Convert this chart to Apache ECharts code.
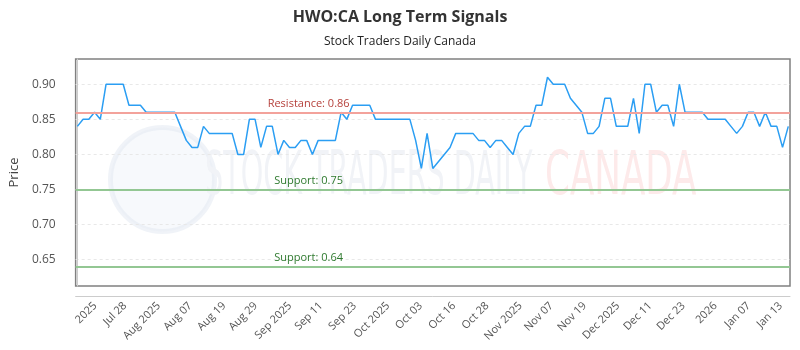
<!DOCTYPE html>
<html>
<head>
<meta charset="utf-8">
<title>HWO:CA Long Term Signals</title>
<script src="https://cdn.jsdelivr.net/npm/echarts@6/dist/echarts.min.js"></script>
<style>
  html, body { margin: 0; padding: 0; background: #fff; }
  #chart { width: 800px; height: 350px; }
</style>
</head>
<body>
<div id="chart"></div>
<script>
// daily closes, one per trading day (index = position on the x axis)
const prices = [
  0.84, 0.85, 0.85, 0.86, 0.85, 0.90, 0.90, 0.90, 0.90, 0.87,
  0.87, 0.87, 0.86, 0.86, 0.86, 0.86, 0.86, 0.86, 0.84, 0.82,
  0.81, 0.81, 0.84, 0.83, 0.83, 0.83, 0.83, 0.83, 0.80, 0.80,
  0.85, 0.85, 0.81, 0.84, 0.84, 0.80, 0.82, 0.81, 0.81, 0.82,
  0.82, 0.80, 0.82, 0.82, 0.82, 0.82, 0.86, 0.85, 0.87, 0.87,
  0.87, 0.87, 0.85, 0.85, 0.85, 0.85, 0.85, 0.85, 0.85, 0.82,
  0.78, 0.83, 0.78, 0.79, 0.80, 0.81, 0.83, 0.83, 0.83, 0.83,
  0.82, 0.82, 0.81, 0.82, 0.82, 0.81, 0.80, 0.83, 0.84, 0.84,
  0.87, 0.87, 0.91, 0.90, 0.90, 0.90, 0.88, 0.87, 0.86, 0.83,
  0.83, 0.84, 0.88, 0.88, 0.84, 0.84, 0.84, 0.88, 0.83, 0.90,
  0.90, 0.86, 0.87, 0.87, 0.84, 0.90, 0.86, 0.86, 0.86, 0.86,
  0.85, 0.85, 0.85, 0.85, 0.84, 0.83, 0.84, 0.86, 0.86, 0.84,
  0.86, 0.84, 0.84, 0.81, 0.84
]

// x tick positions (in trading-day index units) and their labels
const tickPos = [3.1, 8.3, 14.2, 19.7, 25.6, 31.1, 37.1, 42.5, 48.4, 54.2, 59.9,
  65.7, 71.5, 77.3, 82.7, 88.5, 94.3, 99.9, 105.7, 111.3, 117.1, 122.7]
const tickLabels = ['2025', 'Jul 28', 'Aug 2025', 'Aug 07', 'Aug 19', 'Aug 29', 'Sep 2025',
  'Sep 11', 'Sep 23', 'Oct 2025', 'Oct 03', 'Oct 16', 'Oct 28', 'Nov 2025', 'Nov 07',
  'Nov 19', 'Dec 2025', 'Dec 11', 'Dec 23', '2026', 'Jan 07', 'Jan 13']

const resistance = 0.86
const supports = [0.75, 0.64]

const chart = echarts.init(document.getElementById('chart'))

const font = "'Open Sans', 'Noto Sans', sans-serif"
const wmFont = "60px 'DejaVu Sans Condensed', 'Liberation Sans Narrow', sans-serif"

function levelLine(val, name, lineColor, textColor, dist) {
  return {
    yAxis: val,
    lineStyle: { color: lineColor, width: 2, type: 'solid' },
    label: {
      show: true, position: 'insideStartTop', distance: dist,
      formatter: name + ': ' + val.toFixed(2),
      color: textColor, fontSize: 11, fontFamily: font, align: 'center'
    }
  }
}

chart.setOption({
  animation: false,
  title: {
    text: 'HWO:CA Long Term Signals',
    subtext: 'Stock Traders Daily Canada',
    left: 'center', top: 4, itemGap: 11,
    textStyle: { fontSize: 16, fontWeight: 'bold', color: '#333', fontFamily: font },
    subtextStyle: { fontSize: 12, color: '#222', fontFamily: font }
  },
  graphic: [
    {
      type: 'circle', left: 108, top: 125, z: -10, silent: true,
      shape: { r: 52 },
      style: { fill: 'rgba(232,237,245,0.35)', stroke: 'rgba(228,233,242,0.55)', lineWidth: 5 }
    },
    {
      type: 'text', left: 205, top: 148, z: -10, silent: true,
      style: { text: 'STOCK TRADERS DAILY', fill: '#f1f3f7', font: wmFont },
      scaleX: 0.53
    },
    {
      type: 'text', left: 545, top: 148, z: -10, silent: true,
      style: { text: 'CANADA', fill: '#fdeaea', font: wmFont },
      scaleX: 0.66
    }
  ],
  grid: { left: 70, right: 10, top: 59, bottom: 64, show: true, borderColor: '#808080', borderWidth: 1.5, backgroundColor: 'transparent' },
  xAxis: {
    type: 'value', min: -0.3, max: 124.3, offset: 10,
    axisLine: { show: true, lineStyle: { color: '#ccc' } },
    axisTick: { show: false },
    splitLine: { show: false },
    axisLabel: {
      customValues: tickPos, rotate: 45, margin: 8,
      fontSize: 11, color: '#555', fontFamily: font,
      formatter: v => tickLabels[tickPos.indexOf(v)] ?? ''
    }
  },
  yAxis: {
    type: 'value', min: 0.6125, max: 0.936, splitNumber: 5, offset: 10,
    name: 'Price', nameLocation: 'middle', nameGap: 43,
    nameTextStyle: { fontSize: 13, color: '#444', fontFamily: font },
    axisLine: { show: true, lineStyle: { color: '#ccc' } },
    axisTick: { show: false },
    splitLine: { show: true, showMinLine: false, showMaxLine: false, lineStyle: { color: '#e8e8e8', type: [3, 3] } },
    axisLabel: {
      margin: 10, fontSize: 12, color: '#555', fontFamily: font,
      formatter: v => Math.abs(v * 20 - Math.round(v * 20)) < 1e-6 ? v.toFixed(2) : ''
    }
  },
  series: [{
    type: 'line',
    data: prices.map((v, i) => [i, v]),
    showSymbol: false,
    lineStyle: { color: '#2b9ef3', width: 1.5 },
    itemStyle: { color: '#2b9ef3' },
    markLine: {
      silent: true, symbol: 'none',
      data: [
        levelLine(resistance, 'Resistance', '#f3a29b', '#b5403b', [233, 3]),
        levelLine(supports[0], 'Support', '#93c793', '#2f7a2f', [233, 3]),
        levelLine(supports[1], 'Support', '#93c793', '#2f7a2f', [233, 3])
      ]
    }
  }]
})
</script>
</body>
</html>
